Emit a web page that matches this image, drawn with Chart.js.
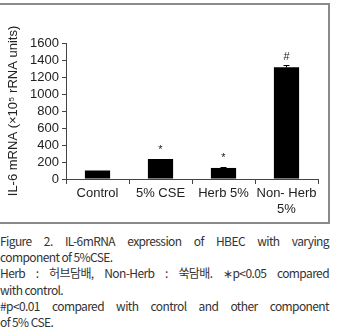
<!DOCTYPE html>
<html><head><meta charset="utf-8">
<script src="https://cdn.jsdelivr.net/npm/chart.js@4/dist/chart.umd.min.js"></script>
<style>
html,body{margin:0;padding:0;background:#fff;width:337px;height:332px;overflow:hidden;}
#frame{position:absolute;left:-2px;top:3px;width:330px;height:217px;border:2px solid #8a8a8a;border-left:none;}
#wrap{position:absolute;left:0;top:0;width:330px;height:217px;}
#cap{position:absolute;left:0;top:233px;width:329px;font-family:"Noto Sans CJK KR","Noto Sans",sans-serif;font-size:12px;line-height:16.2px;color:#333;letter-spacing:-0.6px;}
#cap div{white-space:nowrap;}
#cap .j{text-align:justify;text-align-last:justify;white-space:normal;}
</style></head><body>
<div id="frame"><div id="wrap"><canvas id="c" width="330" height="217"></canvas></div></div>
<div id="cap">
<div class="j">Figure 2. IL-6mRNA expression of HBEC with varying</div>
<div>component of 5%CSE.</div>
<div class="j">Herb : 허브담배, Non-Herb : 쑥담배. ∗p&lt;0.05 compared</div>
<div>with control.</div>
<div class="j">#p&lt;0.01 compared with control and other component</div>
<div>of 5% CSE.</div>
</div>
<script>
const categories = ["Control", "5% CSE", "Herb 5%", ["Non- Herb", "5%"]];
const values = [100, 235, 130, 1315];
const errors = [0, 5, 8, 25];
const marks = ["", "*", "*", "#"];
const yTicks = [0, 200, 400, 600, 800, 1000, 1200, 1400, 1600];

const FONT = "'Liberation Sans', Arial, sans-serif";

const extras = {
  id: 'extras',
  afterDatasetsDraw(chart) {
    const ctx = chart.ctx;
    const meta = chart.getDatasetMeta(0);
    const y = chart.scales.y;
    ctx.save();
    ctx.strokeStyle = '#000';
    ctx.lineWidth = 1;
    meta.data.forEach((bar, i) => {
      const e = errors[i];
      const top = y.getPixelForValue(values[i] + e);
      if (e > 0) {
        const yt = Math.round(top) + 0.5;
        ctx.beginPath();
        ctx.moveTo(bar.x, y.getPixelForValue(values[i]));
        ctx.lineTo(bar.x, yt);
        ctx.moveTo(bar.x - 3, yt);
        ctx.lineTo(bar.x + 3, yt);
        ctx.stroke();
      }
      if (marks[i]) {
        ctx.fillStyle = '#222';
        ctx.textAlign = 'center';
        ctx.textBaseline = 'middle';
        ctx.font = '11px ' + FONT;
        ctx.fillText(marks[i], bar.x, top - (marks[i] === '#' ? 8 : 9));
      }
    });
    ctx.restore();
  }
};

new Chart(document.getElementById('c'), {
  type: 'bar',
  data: {
    labels: categories,
    datasets: [{ data: values, backgroundColor: '#000', borderWidth: 0, barPercentage: 0.8, categoryPercentage: 0.5 }]
  },
  options: {
    responsive: false,
    animation: false,
    devicePixelRatio: 1,
    layout: { padding: { top: 38, right: 10, left: 0, bottom: 0 } },
    plugins: { legend: { display: false }, tooltip: { enabled: false } },
    scales: {
      x: {
        offset: true,
        grid: { display: true, drawOnChartArea: false, offset: true, tickLength: 5, color: '#444' },
        border: { display: true, color: '#444', width: 1 },
        ticks: { color: '#222', font: { family: FONT, size: 13 }, padding: 2, maxRotation: 0, autoSkip: false },
        afterFit: s => { s.height = 43; }
      },
      y: {
        min: 0, max: 1600,
        afterBuildTicks: s => { s.ticks = yTicks.map(v => ({ value: v })); },
        grid: { display: true, drawOnChartArea: false, tickLength: 4, color: '#444' },
        border: { display: true, color: '#444', width: 1 },
        ticks: { color: '#222', font: { family: FONT, size: 13 }, padding: 3, autoSkip: false, callback: v => String(v) },
        title: { display: true, text: 'IL-6 mRNA (×10⁵ rRNA units)', color: '#222', font: { family: FONT, size: 13 }, padding: { top: 8, bottom: 0 } },
        afterFit: s => { s.width = 68; }
      }
    }
  },
  plugins: [extras]
});
</script>
</body></html>
